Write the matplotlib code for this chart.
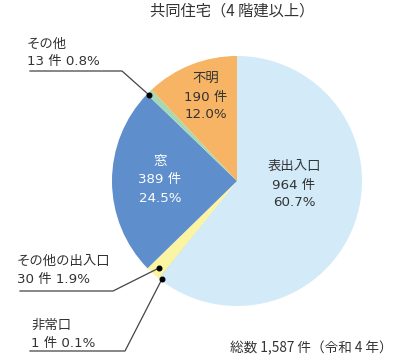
import matplotlib
matplotlib.use("Agg")
import matplotlib.pyplot as plt

plt.rcParams['font.family'] = ['DejaVu Sans', 'Noto Sans CJK JP']
CJK_FIRST = ['Noto Sans CJK JP', 'DejaVu Sans']

labels = ['表出入口', '非常口', 'その他の出入口', '窓', 'その他', '不明']
counts = [964, 1, 30, 389, 13, 190]
percents = ['60.7%', '0.1%', '1.9%', '24.5%', '0.8%', '12.0%']
colors = ['#d3eaf8', '#d6d44c', '#fbf4a2', '#5e8fcc', '#a6d9b3', '#f6b464']
title = '共同住宅（4 階建以上）'
footer = '総数 1,587 件（令和 4 年）'

W, H = 394, 360
fig = plt.figure(figsize=(W / 100, H / 100), dpi=100)
ax = fig.add_axes([0, 0, 1, 1])

def Y(y):
    return H - y

cx, cy, r = 237, 181, 125
ax.pie(counts, colors=colors, startangle=90, counterclock=False,
       center=(cx, Y(cy)), radius=r, frame=True,
       wedgeprops=dict(linewidth=0))
ax.set_xlim(0, W)
ax.set_ylim(0, H)
ax.set_aspect('equal')
ax.axis('off')

fs = 9.6
tc = '#333333'
ax.text(150, Y(11), title, ha='left', va='center', fontsize=11, color=tc,
        family=CJK_FIRST)

# inside labels
def inside(x, y, i, col):
    ax.text(x, Y(y), labels[i], ha='center', va='center', fontsize=fs, color=col)
    ax.text(x, Y(y + 19), f'{counts[i]} 件', ha='center', va='center', fontsize=fs, color=col)
    ax.text(x, Y(y + 37), percents[i], ha='center', va='center', fontsize=fs, color=col)

inside(294, 166, 0, tc)
inside(160, 161, 3, 'white')
inside(206, 78, 5, tc)

lc = '#444444'
ms = 3.3
# その他
ax.text(27, Y(44), labels[4], ha='left', va='center', fontsize=fs, color=tc)
ax.text(27, Y(62), f'{counts[4]} 件 {percents[4]}', ha='left', va='center', fontsize=fs, color=tc)
ax.plot([30, 122, 149], [Y(71), Y(71), Y(95)], color=lc, lw=0.9)
ax.plot([149], [Y(95)], 'o', color='black', ms=ms)

# その他の出入口
ax.text(17, Y(261), labels[2], ha='left', va='center', fontsize=fs, color=tc)
ax.text(17, Y(279), f'{counts[2]} 件 {percents[2]}', ha='left', va='center', fontsize=fs, color=tc)
ax.plot([20, 113, 159], [Y(291), Y(291), Y(268)], color=lc, lw=0.9)
ax.plot([159], [Y(268)], 'o', color='black', ms=ms)

# 非常口
ax.text(31, Y(325), labels[1], ha='left', va='center', fontsize=fs, color=tc)
ax.text(31, Y(343), f'{counts[1]} 件 {percents[1]}', ha='left', va='center', fontsize=fs, color=tc)
ax.plot([30, 125, 162], [Y(351), Y(351), Y(279)], color=lc, lw=0.9)
ax.plot([162], [Y(279)], 'o', color='black', ms=ms)

ax.text(393, Y(348), footer, ha='right', va='center', fontsize=9.8, color=tc,
        family=CJK_FIRST)

fig.savefig('out.png', dpi=100)
